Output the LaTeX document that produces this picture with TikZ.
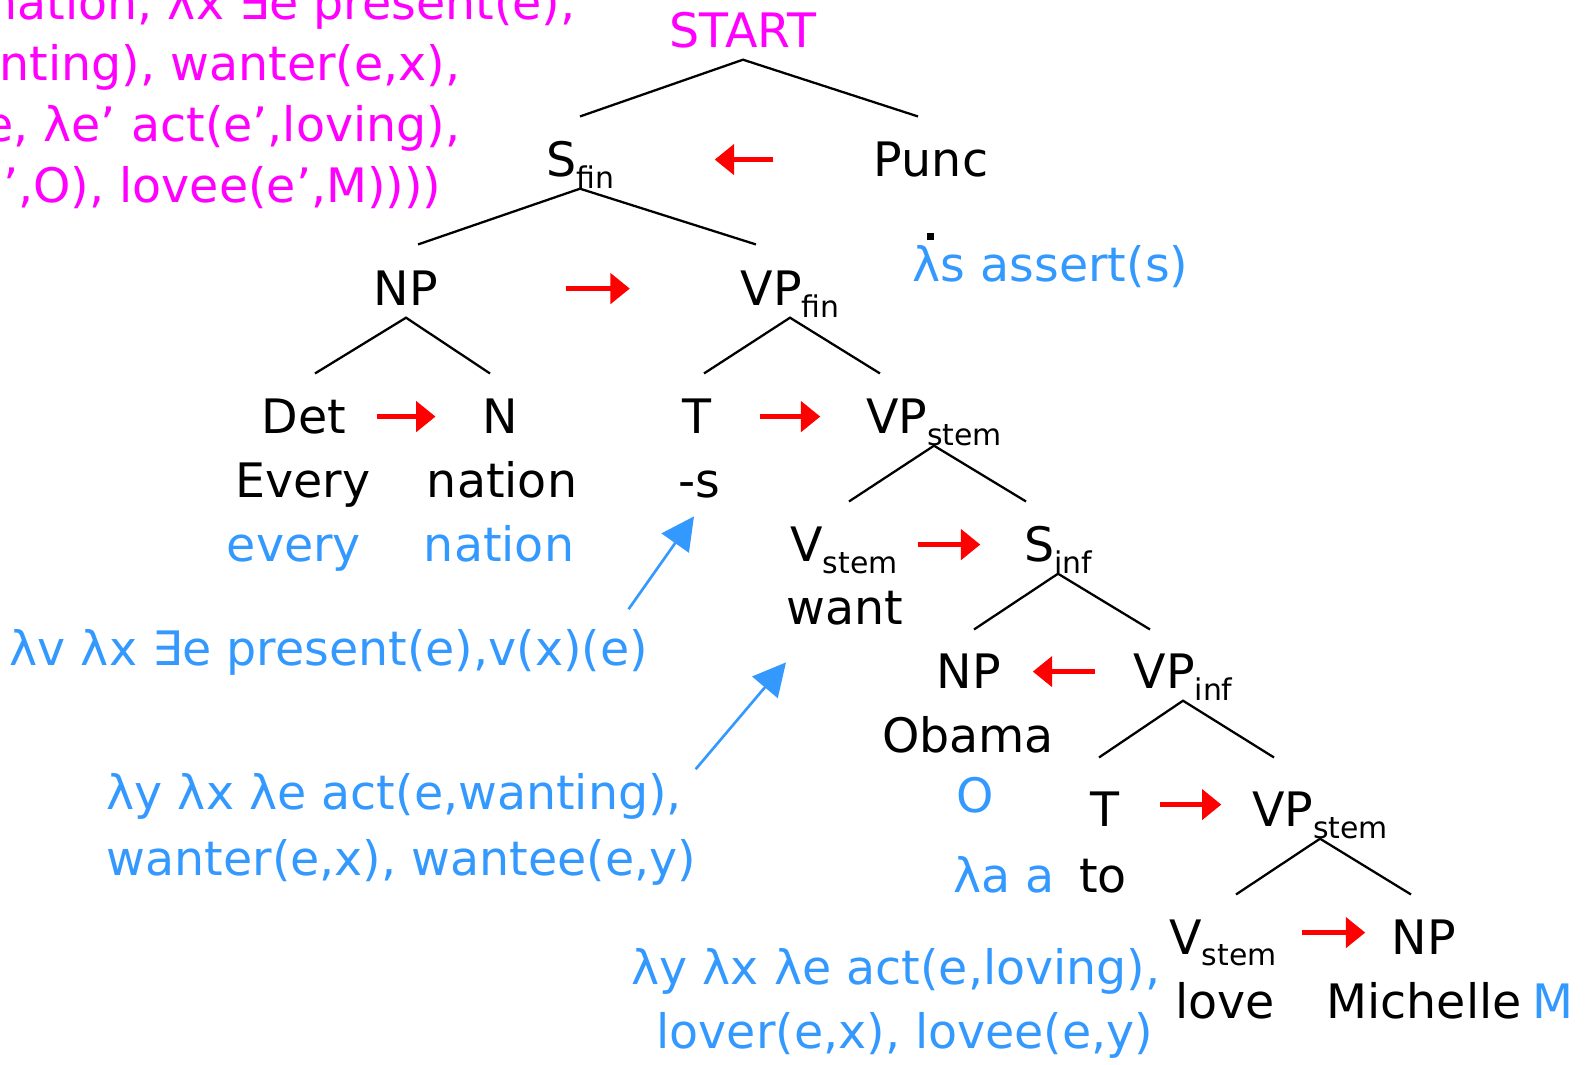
\documentclass[tikz,border=0pt]{standalone}
\usepackage{fontspec}
\setmainfont{DejaVu Sans}
\usepackage{xcolor}
\usetikzlibrary{arrows.meta}
\definecolor{cmag}{RGB}{255,0,255}
\definecolor{csem}{RGB}{51,153,255}
\definecolor{chead}{RGB}{255,0,0}
\newcommand{\sub}[1]{\raisebox{-3.3pt}{\fontsize{8.5}{9}\selectfont #1}}
% parent, left child, right child, x offsets of the two lower ends, gap above the children
\newcommand{\branch}[6]{%
  \draw[branch] ([xshift=#4,yshift=#6]#2.north) -- ([yshift=-0.11cm]#1.south)
    -- ([xshift=#5,yshift=#6]#3.north);}

\begin{document}
\begin{tikzpicture}[x=0.01cm, y=-0.01cm,
  txt/.style={font=\fontsize{13.5}{16}\selectfont, inner sep=0pt, anchor=base},
  cat/.style={txt, text height=9.9pt, text depth=0pt},
  sem/.style={txt, text=csem},
  branch/.style={draw=black, line width=0.65pt},
  headarr/.style={draw=chead, line width=1.6pt, -{Triangle[length=5.5pt,width=8.5pt]}},
  semarr/.style={draw=csem, line width=0.75pt, -{Triangle[length=9.3pt,width=9.4pt]}}]
\useasboundingbox (0,0) rectangle (1589,1065);
\clip (0,0) rectangle (1589,1065);

% meaning of the whole sentence
\node[txt, text=cmag, anchor=base east] (sent1) at (576,20)  {nation, λx ∃e present(e),};
\node[txt, text=cmag, anchor=base east] (sent2) at (461,81)  {nting), wanter(e,x),};
\node[txt, text=cmag, anchor=base east] (sent3) at (461,142) {e, λe’ act(e’,loving),};
\node[txt, text=cmag, anchor=base east] (sent4) at (442,203) {’,O), lovee(e’,M))))};

% categories
\node[cat, text=cmag] (start) at (743,48) {START};
\node[cat] (sfin)    at (580,177)  {S\sub{fin}};
\node[cat] (punc)    at (931,177)  {Punc};
\node[cat] (np)      at (406,306)  {NP};
\node[cat] (vpfin)   at (790,306)  {VP\sub{fin}};
\node[cat] (det)     at (304,434)  {Det};
\node[cat] (n)       at (500,434)  {N};
\node[cat] (t)       at (697,434)  {T};
\node[cat] (vpstem)  at (934,434)  {VP\sub{stem}};
\node[cat] (vstem)   at (844,562)  {V\sub{stem}};
\node[cat] (sinf)    at (1058,562) {S\sub{inf}};
\node[cat] (npobj)   at (969,689)  {NP};
\node[cat] (vpinf)   at (1183,689) {VP\sub{inf}};
\node[cat] (tinf)    at (1105,827) {T};
\node[cat] (vpstemb) at (1320,827) {VP\sub{stem}};
\node[cat] (vstemb)  at (1223,954) {V\sub{stem}};
\node[cat] (npm)     at (1424,954) {NP};

% words
\node[txt] (every)    at (303,498)   {Every};
\node[txt] (nation)   at (502,498)   {nation};
\node[txt] (suffix)   at (699,498)   {-s};
\node[txt] (want)     at (845,625)   {want};
\node[txt] (obama)    at (968,752)   {Obama};
\node[txt] (to)       at (1103,892)  {to};
\node[txt] (love)     at (1225,1018) {love};
\node[txt] (michelle) at (1424,1018) {Michelle};

% meanings
\node[sem] (everym)  at (294,562)  {every};
\node[sem] (nationm) at (499,562)  {nation};
\node[sem, anchor=base west] (assert) at (912,282) {λs assert(s)};
\fill (927,233) rectangle (934,240);
\node[sem, anchor=base west] (presm) at (9,666) {λv λx ∃e present(e),v(x)(e)};
\node[sem, anchor=base west] (wantm1) at (106,809) {λy λx λe act(e,wanting),};
\node[sem, anchor=base west] (wantm2) at (106,875) {wanter(e,x), wantee(e,y)};
\node[sem] (obamam) at (975,812)  {O};
\node[sem] (tom)    at (1004,892) {λa a};
\node[sem] (lovem1) at (896,984)  {λy λx λe act(e,loving),};
\node[sem] (lovem2) at (905,1048) {lover(e,x), lovee(e,y)};
\node[sem, anchor=base west] (michellem) at (1532,1018) {M};

% tree
\branch{start}{sfin}{punc}{0cm}{-0.13cm}{0.25cm}
\branch{sfin}{np}{vpfin}{0.12cm}{-0.34cm}{0.26cm}
\branch{np}{det}{n}{0.11cm}{-0.10cm}{0.25cm}
\branch{vpfin}{t}{vpstem}{0.07cm}{-0.54cm}{0.25cm}
\branch{vpstem}{vstem}{sinf}{0.05cm}{-0.32cm}{0.25cm}
\branch{sinf}{npobj}{vpinf}{0.05cm}{-0.33cm}{0.24cm}
\branch{vpinf}{tinf}{vpstemb}{-0.06cm}{-0.46cm}{0.34cm}
\branch{vpstemb}{vstemb}{npm}{0.13cm}{-0.13cm}{0.24cm}

% heads
\draw[headarr, shorten <=1.00cm, shorten >=1.00cm] (punc.west) -- (sfin.east);
\draw[headarr, shorten <=1.27cm, shorten >=1.10cm] (np.east) -- (vpfin.west);
\draw[headarr, shorten <=0.30cm, shorten >=0.46cm] (det.east) -- (n.west);
\draw[headarr, shorten <=0.48cm, shorten >=0.45cm] (t.east) -- (vpstem.west);
\draw[headarr, shorten <=0.20cm, shorten >=0.43cm] (vstem.east) -- (sinf.west);
\draw[headarr, shorten <=0.38cm, shorten >=0.31cm] (vpinf.west) -- (npobj.east);
\draw[headarr, shorten <=0.40cm, shorten >=0.30cm] ([yshift=0.05cm]tinf.east) -- ([yshift=0.05cm]vpstemb.west);
\draw[headarr, shorten <=0.25cm, shorten >=0.26cm] ([yshift=0.04cm]vstemb.east) -- ([yshift=0.04cm]npm.west);

% meanings to words
\draw[semarr] ([xshift=-0.2cm,yshift=0.2cm]presm.north east) -- ([xshift=-0.05cm,yshift=-0.17cm]suffix.south);
\draw[semarr] ([xshift=0.13cm,yshift=0.03cm]wantm1.north east) -- ([yshift=-0.36cm]want.south west);
\end{tikzpicture}
\end{document}
